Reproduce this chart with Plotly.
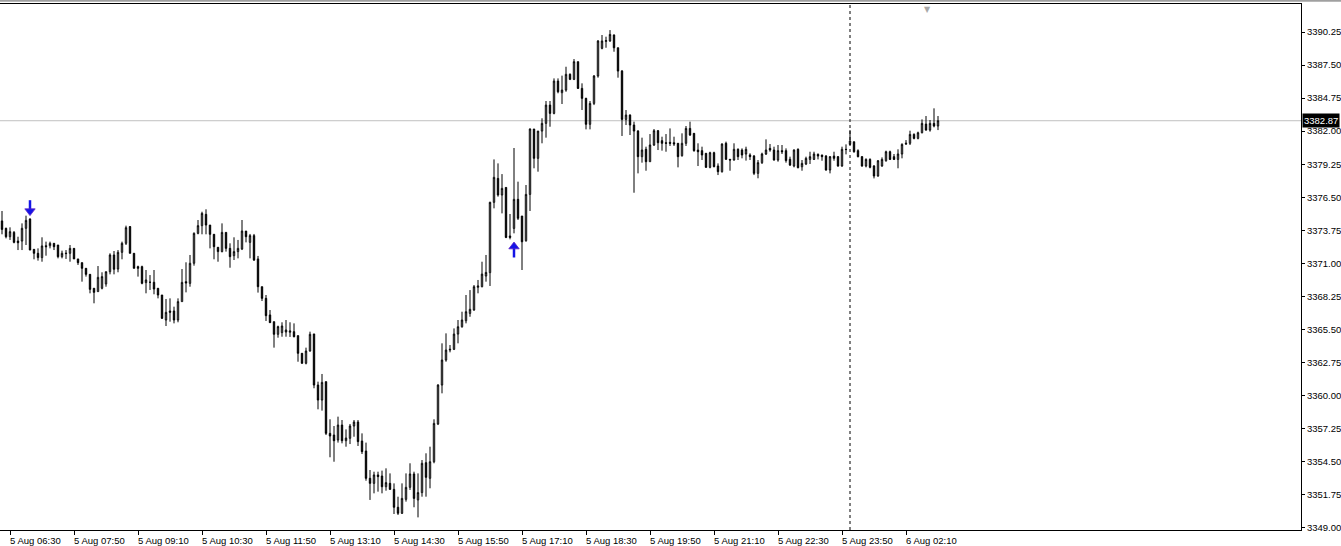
import plotly.graph_objects as go
import pandas as pd

# ---------------- data (XAUUSD M5) ----------------
opens = [3374.53, 3373.92, 3373.22, 3373.58, 3372.86, 3372.86, 3373.92, 3374.69, 3372.17, 3371.84,
         3371.48, 3372.47, 3372.47, 3372.67, 3372.53, 3371.56, 3371.81, 3371.84, 3372.25, 3371.37,
         3371.06, 3370.59, 3370.09, 3368.93, 3368.65, 3368.93, 3369.29, 3370.31, 3371.70, 3370.53,
         3371.92, 3372.67, 3374.06, 3371.84, 3370.73, 3370.73, 3369.40, 3369.43, 3369.43, 3368.93,
         3368.37, 3366.29, 3367.04, 3367.04, 3366.29, 3367.82, 3369.48, 3369.34, 3371.01, 3373.50,
         3374.14, 3375.08, 3374.19, 3373.42, 3372.34, 3371.98, 3373.58, 3372.25, 3371.64, 3371.98,
         3372.20, 3373.69, 3372.75, 3373.31, 3371.37, 3369.06, 3368.09, 3366.71, 3366.15, 3365.10,
         3365.24, 3365.29, 3365.27, 3365.32, 3364.99, 3363.52, 3362.69, 3363.71, 3365.13, 3360.88,
         3359.63, 3361.16, 3356.86, 3356.72, 3356.31, 3357.55, 3356.25, 3356.45, 3357.47, 3357.80,
         3356.22, 3355.39, 3353.12, 3352.70, 3353.40, 3353.31, 3352.42, 3352.70, 3352.20, 3350.71,
         3350.21, 3351.37, 3352.37, 3353.48, 3351.32, 3351.93, 3354.42, 3353.12, 3354.50, 3357.64,
         3360.88, 3362.96, 3363.79, 3363.85, 3365.12, 3365.73, 3366.23, 3366.84, 3367.12, 3369.01,
         3369.06, 3369.95, 3370.23, 3376.08, 3378.07, 3376.69, 3377.32, 3373.28, 3373.91, 3376.33,
         3374.94, 3372.89, 3376.74, 3382.18, 3379.74, 3382.01, 3382.65, 3384.17, 3383.48, 3386.17,
         3385.20, 3385.42, 3386.73, 3386.31, 3387.78, 3385.56, 3384.73, 3382.57, 3384.31, 3386.59,
         3388.89, 3389.47, 3389.50, 3390.00, 3388.94, 3387.00, 3382.98, 3383.34, 3382.51, 3382.01,
         3379.88, 3380.49, 3379.46, 3380.85, 3382.04, 3381.21, 3381.04, 3381.07, 3381.04, 3380.99,
         3379.96, 3380.99, 3382.23, 3381.82, 3380.43, 3380.38, 3380.16, 3378.99, 3380.21, 3379.10,
         3378.63, 3380.99, 3379.66, 3379.60, 3380.49, 3380.43, 3380.10, 3380.02, 3379.93, 3378.49,
         3379.38, 3380.10, 3380.57, 3380.43, 3379.60, 3380.38, 3380.38, 3379.66, 3379.10, 3380.49,
         3379.04, 3379.27, 3379.65, 3379.65, 3380.07, 3380.01, 3379.93, 3378.77, 3379.93, 3379.88,
         3379.10, 3380.49, 3380.90, 3381.12, 3380.38, 3379.88, 3379.10, 3379.65, 3379.10, 3378.27,
         3379.10, 3379.54, 3380.29, 3379.88, 3379.65, 3380.10, 3380.93, 3380.99, 3381.73, 3381.40,
         3381.87, 3382.59, 3382.09, 3382.65, 3382.43]
highs = [3375.36, 3373.97, 3374.00, 3373.69, 3373.22, 3374.33, 3374.97, 3374.75, 3372.17, 3372.25,
         3373.17, 3372.81, 3372.81, 3372.67, 3372.53, 3372.06, 3372.11, 3372.53, 3372.25, 3371.37,
         3371.06, 3370.59, 3370.09, 3368.93, 3370.78, 3370.26, 3370.31, 3371.84, 3372.03, 3372.11,
         3372.81, 3374.14, 3374.11, 3371.84, 3370.81, 3370.81, 3370.45, 3370.03, 3370.45, 3368.93,
         3368.37, 3368.04, 3368.09, 3367.40, 3368.09, 3370.53, 3371.09, 3371.70, 3373.58, 3374.61,
         3375.30, 3375.50, 3374.19, 3373.42, 3372.34, 3374.33, 3373.58, 3372.67, 3373.17, 3372.95,
         3374.61, 3373.69, 3373.45, 3373.45, 3371.62, 3369.06, 3368.37, 3367.12, 3366.15, 3365.82,
         3366.10, 3366.29, 3366.10, 3366.01, 3364.99, 3363.52, 3363.99, 3365.32, 3365.13, 3361.16,
         3361.80, 3361.16, 3358.03, 3357.47, 3358.25, 3357.97, 3357.19, 3357.64, 3357.97, 3357.97,
         3356.86, 3356.09, 3353.81, 3353.67, 3353.67, 3353.76, 3353.95, 3353.53, 3352.70, 3351.59,
         3352.70, 3353.53, 3354.37, 3353.67, 3353.53, 3354.64, 3355.20, 3355.75, 3358.03, 3360.95,
         3364.35, 3365.18, 3364.21, 3365.59, 3366.29, 3366.98, 3368.37, 3368.78, 3369.20, 3369.62,
         3371.14, 3371.70, 3376.13, 3379.65, 3379.32, 3378.43, 3377.32, 3375.11, 3380.60, 3377.80,
         3374.94, 3377.52, 3382.23, 3382.18, 3382.01, 3383.07, 3384.51, 3384.51, 3386.39, 3386.39,
         3386.62, 3387.36, 3386.81, 3388.00, 3387.78, 3385.98, 3384.78, 3384.51, 3386.67, 3389.58,
         3390.00, 3389.86, 3390.41, 3390.05, 3388.94, 3387.09, 3383.76, 3383.40, 3382.79, 3382.09,
         3381.46, 3380.71, 3381.76, 3382.18, 3382.10, 3381.54, 3381.76, 3382.23, 3381.54, 3380.99,
         3381.82, 3382.43, 3382.79, 3381.82, 3380.99, 3380.71, 3380.16, 3380.29, 3380.29, 3379.32,
         3380.99, 3381.13, 3379.66, 3380.99, 3380.57, 3380.57, 3380.71, 3380.16, 3380.02, 3379.60,
         3380.21, 3381.32, 3380.93, 3380.71, 3380.85, 3380.85, 3380.57, 3379.88, 3380.49, 3380.57,
         3379.60, 3379.88, 3380.29, 3380.29, 3380.15, 3380.05, 3380.01, 3379.93, 3380.29, 3379.93,
         3380.71, 3380.90, 3382.09, 3381.12, 3380.49, 3379.93, 3379.74, 3379.74, 3379.18, 3379.60,
         3379.82, 3380.38, 3380.38, 3380.10, 3380.49, 3380.99, 3381.26, 3382.04, 3381.82, 3381.96,
         3382.98, 3383.26, 3382.93, 3383.90, 3383.26]
lows = [3373.42, 3373.08, 3372.95, 3372.67, 3372.11, 3372.11, 3372.53, 3372.11, 3371.34, 3371.23,
        3371.14, 3371.64, 3372.25, 3372.11, 3371.42, 3371.42, 3371.37, 3371.14, 3371.37, 3370.87,
        3369.48, 3369.90, 3368.51, 3367.68, 3368.65, 3368.84, 3369.06, 3370.09, 3370.09, 3370.26,
        3371.34, 3372.53, 3371.84, 3370.59, 3369.90, 3369.26, 3368.51, 3368.79, 3368.43, 3368.09,
        3366.37, 3365.79, 3366.15, 3366.01, 3366.10, 3367.82, 3368.59, 3369.06, 3370.81, 3373.42,
        3373.42, 3373.42, 3372.25, 3371.34, 3371.14, 3371.92, 3371.98, 3370.64, 3371.28, 3371.42,
        3372.11, 3372.75, 3371.42, 3371.20, 3368.57, 3367.87, 3366.21, 3366.07, 3363.99, 3364.82,
        3364.90, 3364.90, 3364.88, 3364.85, 3362.82, 3362.65, 3362.60, 3363.66, 3360.61, 3358.86,
        3358.75, 3356.72, 3354.87, 3354.50, 3356.09, 3356.03, 3355.75, 3355.97, 3356.58, 3355.81,
        3355.14, 3352.92, 3351.32, 3351.87, 3352.01, 3351.87, 3352.09, 3352.15, 3350.15, 3350.07,
        3350.15, 3351.18, 3352.15, 3350.71, 3349.87, 3351.59, 3351.59, 3352.29, 3354.37, 3357.55,
        3360.19, 3362.82, 3363.60, 3363.79, 3364.35, 3365.65, 3366.01, 3366.56, 3367.06, 3368.51,
        3369.01, 3369.48, 3369.12, 3375.58, 3376.55, 3375.16, 3373.10, 3373.00, 3373.50, 3374.61,
        3370.45, 3372.80, 3375.36, 3378.91, 3378.63, 3380.99, 3381.46, 3382.37, 3383.40, 3385.15,
        3384.26, 3385.28, 3386.25, 3386.25, 3385.51, 3383.76, 3382.15, 3382.15, 3384.17, 3386.45,
        3388.81, 3388.94, 3389.44, 3388.61, 3386.45, 3381.60, 3382.51, 3381.68, 3376.88, 3378.49,
        3379.38, 3378.71, 3379.46, 3380.77, 3380.43, 3380.38, 3380.29, 3380.77, 3380.77, 3378.99,
        3379.88, 3380.77, 3381.60, 3380.29, 3379.10, 3379.60, 3378.95, 3378.91, 3378.99, 3378.35,
        3378.55, 3379.60, 3378.71, 3379.55, 3379.60, 3379.74, 3379.55, 3379.60, 3378.35, 3378.08,
        3379.27, 3380.02, 3380.29, 3379.55, 3379.46, 3380.10, 3379.38, 3379.10, 3378.99, 3378.91,
        3378.71, 3379.18, 3379.27, 3379.60, 3379.65, 3379.54, 3378.71, 3378.49, 3379.54, 3379.04,
        3379.04, 3380.07, 3380.85, 3380.21, 3379.82, 3379.04, 3378.99, 3378.91, 3378.07, 3378.21,
        3379.04, 3379.46, 3379.60, 3379.60, 3378.91, 3379.74, 3380.85, 3380.85, 3381.32, 3381.32,
        3381.82, 3382.04, 3381.96, 3382.32, 3382.09]
closes = [3373.83, 3373.22, 3373.64, 3372.75, 3372.72, 3373.92, 3374.58, 3372.11, 3371.84, 3371.48,
          3372.45, 3372.39, 3372.67, 3372.39, 3371.56, 3371.84, 3371.84, 3372.25, 3371.37, 3371.06,
          3370.59, 3370.09, 3368.84, 3368.59, 3369.84, 3369.90, 3370.31, 3371.70, 3370.51, 3371.92,
          3372.67, 3373.97, 3371.84, 3370.59, 3370.59, 3369.34, 3369.62, 3369.43, 3368.87, 3368.37,
          3366.43, 3366.93, 3366.93, 3366.29, 3367.82, 3369.42, 3369.37, 3371.01, 3373.50, 3374.14,
          3375.16, 3374.19, 3373.42, 3372.39, 3371.98, 3373.58, 3372.25, 3371.56, 3371.98, 3372.25,
          3373.69, 3373.22, 3373.31, 3371.28, 3369.06, 3368.09, 3366.65, 3366.07, 3365.10, 3365.74,
          3365.79, 3365.46, 3365.38, 3364.90, 3363.52, 3362.69, 3363.71, 3365.10, 3360.88, 3359.63,
          3361.10, 3356.86, 3356.64, 3356.25, 3357.55, 3356.25, 3356.47, 3357.47, 3357.80, 3356.17,
          3355.34, 3353.12, 3352.70, 3353.40, 3353.26, 3352.42, 3352.76, 3352.20, 3350.71, 3350.21,
          3351.45, 3352.37, 3353.48, 3351.45, 3351.93, 3354.37, 3353.20, 3354.50, 3357.69, 3360.88,
          3362.96, 3363.79, 3363.85, 3365.12, 3365.73, 3366.29, 3366.98, 3367.18, 3369.06, 3369.12,
          3370.11, 3370.25, 3376.08, 3378.16, 3376.69, 3377.24, 3373.16, 3373.16, 3376.33, 3374.75,
          3372.80, 3376.74, 3382.18, 3379.74, 3382.01, 3382.65, 3384.17, 3383.48, 3386.17, 3385.28,
          3385.42, 3386.73, 3386.31, 3387.78, 3385.56, 3384.73, 3382.57, 3384.31, 3386.59, 3389.50,
          3389.50, 3389.53, 3390.05, 3388.94, 3387.00, 3382.98, 3383.34, 3382.51, 3382.01, 3379.88,
          3380.43, 3379.46, 3380.85, 3382.04, 3381.04, 3380.99, 3380.99, 3380.99, 3380.93, 3379.88,
          3380.99, 3382.23, 3381.68, 3380.38, 3380.29, 3380.02, 3378.99, 3380.21, 3379.05, 3378.63,
          3380.93, 3379.66, 3379.60, 3380.49, 3379.88, 3380.02, 3380.49, 3379.88, 3378.49, 3379.38,
          3380.10, 3380.43, 3380.43, 3379.60, 3380.38, 3380.29, 3379.55, 3379.18, 3380.43, 3378.96,
          3379.32, 3379.74, 3379.88, 3380.10, 3379.93, 3379.88, 3378.77, 3379.88, 3379.74, 3379.10,
          3380.49, 3380.47, 3381.18, 3380.29, 3379.88, 3379.10, 3379.65, 3378.99, 3378.27, 3379.54,
          3379.65, 3380.29, 3379.65, 3379.65, 3380.10, 3380.90, 3380.99, 3381.73, 3381.40, 3381.87,
          3382.65, 3382.09, 3382.65, 3382.43, 3382.87]

# bar times: 5 Aug from 06:20, then 6 Aug from 01:00 (after the daily break)
day1_start = "2025-08-05 06:20"
day1_bars = 212
day2_start = "2025-08-06 01:00"

# signal arrows: bar index, price of the arrow head, direction
arrow_bars = [7, 128]
arrow_head_prices = [3375.35, 3372.40]
arrow_dirs = ["down", "up"]

# price scale ticks
y_ticks = [3349.00, 3351.75, 3354.50, 3357.25, 3360.00, 3362.75, 3365.50, 3368.25,
           3371.00, 3373.75, 3376.50, 3379.25, 3382.00, 3384.75, 3387.50, 3390.25]
label_step = 16
label_first = 2
# ------------------------------------------------------------------------

n = len(opens)
times = list(pd.date_range(day1_start, periods=day1_bars, freq="5min")) + \
        list(pd.date_range(day2_start, periods=n - day1_bars, freq="5min"))
idx = list(range(n))
tick_idx = list(range(label_first, n, label_step))
tick_txt = [f"{times[i].day} {times[i]:%b %H:%M}" for i in tick_idx]

FONT = "Liberation Sans, Arial, sans-serif"
ARROW = "#1414E6"
STEM_OFF = 0.5  # price distance between arrow head and stem centre

fig = go.Figure()
fig.add_trace(go.Candlestick(
    x=idx, open=opens, high=highs, low=lows, close=closes,
    increasing=dict(line=dict(color="black", width=1), fillcolor="white"),
    decreasing=dict(line=dict(color="black", width=1), fillcolor="black"),
    whiskerwidth=0, hoverinfo="skip", showlegend=False,
))
# arrow stems
fig.add_trace(go.Scatter(
    x=arrow_bars,
    y=[p + (STEM_OFF if d == "down" else -STEM_OFF) for p, d in zip(arrow_head_prices, arrow_dirs)],
    mode="markers", hoverinfo="skip", showlegend=False,
    marker=dict(symbol="line-ns", size=7, line=dict(color=ARROW, width=2.5)),
))
# arrow heads
fig.add_trace(go.Scatter(
    x=arrow_bars, y=arrow_head_prices, mode="markers", hoverinfo="skip", showlegend=False,
    marker=dict(symbol=["triangle-down" if d == "down" else "triangle-up" for d in arrow_dirs],
                size=9, color=ARROW, line=dict(color="#5A20C8", width=0.8)),
))

shapes = [
    dict(type="line", xref="paper", x0=0, x1=1, yref="y", y0=closes[-1], y1=closes[-1],
         line=dict(color="#C0C0C0", width=1), layer="below"),
    dict(type="line", xref="x", x0=day1_bars, x1=day1_bars, yref="paper", y0=0, y1=1,
         line=dict(color="black", width=1, dash="3px,3px")),
    dict(type="line", xref="paper", x0=0, x1=1341 / 1301, yref="paper", y0=1 + 3.2 / 526, y1=1 + 3.2 / 526,
         line=dict(color="#A0A0A0", width=2)),
]

annotations = []
for i, t in zip(tick_idx, tick_txt):
    annotations.append(dict(x=i, xref="x", y=0, yref="paper", yanchor="top", xanchor="left",
                            yshift=-3, xshift=-2, text=t, showarrow=False,
                            font=dict(family=FONT, size=9.5, color="black")))
annotations.append(dict(x=1, xref="paper", y=closes[-1], yref="y", xanchor="left", yanchor="middle",
                        xshift=1, text=f"{closes[-1]:.2f}", showarrow=False, bgcolor="black",
                        borderpad=1, font=dict(family=FONT, size=9.5, color="white")))
annotations.append(dict(x=231.3, xref="x", y=1, yref="paper", yanchor="top", xanchor="center",
                        yshift=1, text="▼", showarrow=False,
                        font=dict(family="DejaVu Sans", size=8, color="#A8A8A8")))

fig.update_layout(
    width=1341, height=546,
    margin=dict(l=0, r=40, t=4, b=16, pad=0),
    paper_bgcolor="white", plot_bgcolor="white",
    boxgap=0.5,
    showlegend=False,
    shapes=shapes, annotations=annotations,
    xaxis=dict(range=[-0.5, 324.75], showgrid=False, zeroline=False, showline=True, mirror=True,
               linecolor="black", linewidth=1, ticks="outside", ticklen=4, tickcolor="black",
               tickvals=tick_idx, showticklabels=False, rangeslider=dict(visible=False),
               fixedrange=True),
    yaxis=dict(side="right", range=[3348.82, 3392.58], showgrid=False, zeroline=False,
               showline=True, linecolor="black", linewidth=1, ticks="outside", ticklen=3,
               tickcolor="black", tickvals=y_ticks, ticktext=[f"{v:.2f}" for v in y_ticks],
               tickfont=dict(family=FONT, size=9.5, color="black"), fixedrange=True),
)

fig.write_html("out.html", config={"displayModeBar": False},
               post_script="document.body.style.margin='0';document.body.style.overflow='hidden';")
